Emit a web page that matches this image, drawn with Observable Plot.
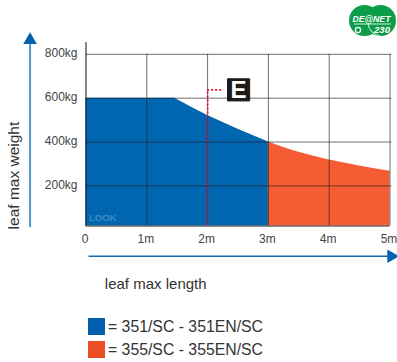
<!DOCTYPE html>
<html>
<head>
<meta charset="utf-8">
<script src="https://cdn.jsdelivr.net/npm/d3@7"></script>
<script src="https://cdn.jsdelivr.net/npm/@observablehq/plot@0.6"></script>
<style>
html,body{margin:0;padding:0;background:#fff;overflow:hidden}
#wrap{position:relative;width:397px;height:362px;font-family:"Liberation Sans",Arial,sans-serif;color:#333}
#legend{position:absolute;left:88px;top:315px}
.row{display:flex;align-items:center;height:23px;font-size:15.8px;line-height:1}
.sw{width:17px;height:17px;margin-right:3px}
#logo{position:absolute;left:347px;top:3px}
</style>
</head>
<body>
<div id="wrap">
<div id="chart"></div>
<svg id="logo" width="50" height="36" viewBox="0 0 50 36">
  <circle cx="17.5" cy="17.5" r="15.5" fill="#0c9d48"/>
  <circle cx="33.5" cy="17.5" r="15.5" fill="#0c9d48"/>
  <path d="M33 33 A15.5 15.5 0 0 1 21 21" fill="none" stroke="#fff" stroke-width="0.9"/>
  <text x="24.5" y="19" text-anchor="middle" font-family="Liberation Sans" font-style="italic" font-weight="700" font-size="9.5" fill="#fff" textLength="38" lengthAdjust="spacingAndGlyphs">DE@NET</text>
  <path d="M7 21 H44" stroke="#fff" stroke-width="0.8"/>
  <text x="35" y="30" text-anchor="middle" font-family="Liberation Sans" font-style="italic" font-weight="700" font-size="9.5" fill="#fff">230</text>
  <circle cx="11" cy="27" r="2.6" fill="none" stroke="#fff" stroke-width="1.3"/>
</svg>
<div id="legend"></div>
</div>
<script>
const blueLengths = [0, 1.46, 1.75, 2, 2.5, 3];
const blueWeights = [600, 600, 556, 521, 458, 400];
const orangeLengths = [3, 3.5, 4, 4.5, 5];
const orangeWeights = [400, 353, 318, 291, 267];
const xTicks = [0, 1, 2, 3, 4, 5];
const yTicks = [200, 400, 600, 800];
const xTickLabels = ["0", "1m", "2m", "3m", "4m", "5m"];
const legendLabels = ["= 351/SC - 351EN/SC", "= 355/SC - 355EN/SC"];
const legendColors = ["#0060ae", "#e94e24"];
const markerLength = 2;

const yMin = 17, yMax = 854;
const series = (xs, ys) => xs.map((x, i) => ({x, y: ys[i]}));
const gridColor = "#222";

const plot = Plot.plot({
  width: 397,
  height: 310,
  marginLeft: 85.5,
  marginRight: 7.5,
  marginTop: 42,
  marginBottom: 84.5,
  style: {fontFamily: '"Liberation Sans", Arial, sans-serif', background: "transparent", overflow: "visible"},
  x: {domain: [0, 5]},
  y: {domain: [yMin, yMax]},
  marks: [
    Plot.areaY(series(blueLengths, blueWeights), {x: "x", y1: yMin, y2: "y", fill: "#0066b0"}),
    Plot.areaY(series(orangeLengths, orangeWeights), {x: "x", y1: yMin, y2: "y", fill: "#f65c33", curve: "monotone-x"}),
    Plot.ruleX(xTicks.slice(1), {y1: yMin, y2: 800, stroke: gridColor, strokeOpacity: 0.65, strokeWidth: 1}),
    Plot.ruleY(yTicks, {x1: 0, x2: 5.03, stroke: gridColor, strokeOpacity: 0.65, strokeWidth: 1}),
    Plot.ruleX([0], {y1: yMin, y2: yMax, stroke: "#111", strokeWidth: 1}),
    Plot.ruleY([yMin], {x1: 0, x2: 5, stroke: "#222", strokeWidth: 1}),
    Plot.axisY(yTicks, {anchor: "left", tickSize: 0, tickPadding: 8.5, dy: -1, tickFormat: d => d + "kg", fontSize: 12, color: "#444", label: null}),
    Plot.axisX(xTicks, {anchor: "bottom", tickSize: 0, tickPadding: 8.5, dx: -1, tickFormat: (d, i) => xTickLabels[i], fontSize: 12, color: "#444", label: null}),
    // dotted marker to the E badge
    Plot.ruleX([markerLength], {y1: yMin, y2: 638, stroke: "#f0103c", strokeWidth: 1.7, strokeDasharray: "2 2"}),
    Plot.ruleY([638], {x1: markerLength, x2: 2.24, stroke: "#f0103c", strokeWidth: 1.7, strokeDasharray: "2 2"}),
    Plot.dot([{x: 2.51, y: 638}], {x: "x", y: "y", symbol: "square", r: 12.5, fill: "#1d1a1a", stroke: "#1d1a1a", strokeLinejoin: "round", strokeWidth: 1}),
    Plot.text(["E"], {x: 2.51, y: 638, fill: "#fff", fontSize: 24, fontWeight: 700, fontFamily: "Liberation Sans"}),
    Plot.text(["LOOK"], {x: 0.05, y: 55, textAnchor: "start", fill: "#3f8dc4", fontSize: 9.5, fontWeight: 700}),
    // axis arrows
    Plot.ruleX([-0.92], {y1: 10, y2: 870, stroke: "#4f9ad0", strokeWidth: 2}),
    Plot.dot([{x: -0.92, y: 865}], {x: "x", y: "y", symbol: "triangle2", r: 6.5, fill: "#0062ae"}),
    Plot.ruleY([-121], {x1: 0.05, x2: 5, stroke: "#0f69b2", strokeWidth: 1.6}),
    Plot.dot([{x: 5.02, y: -121}], {x: "x", y: "y", symbol: "triangle2", r: 6.5, fill: "#0062ae", rotate: 90}),
    // axis titles
    Plot.text(["leaf max length"], {x: 0.31, y: -247, textAnchor: "start", fill: "#333", fontSize: 15}),
    Plot.text(["leaf max weight"], {x: -1.18, y: 247, rotate: -90, fill: "#333", fontSize: 15.5})
  ]
});
document.getElementById("chart").append(plot);

const legend = d3.select("#legend");
legendLabels.forEach((t, i) => {
  const r = legend.append("div").attr("class", "row");
  r.append("div").attr("class", "sw").style("background", legendColors[i]);
  r.append("span").text(t);
});
</script>
</body>
</html>
